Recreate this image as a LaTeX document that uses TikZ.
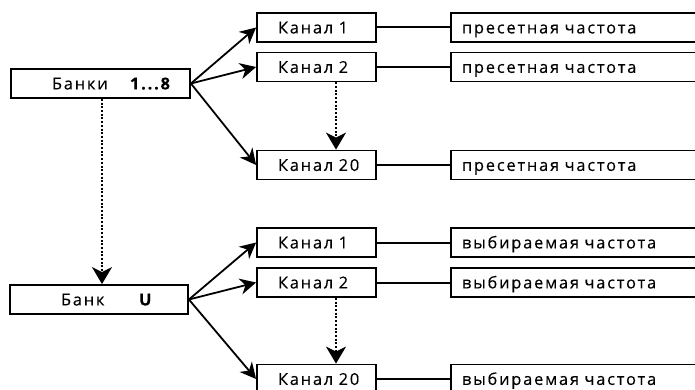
\documentclass[tikz,border=0pt]{standalone}
\usepackage{fontspec}
\setmainfont{Open Sans}[LetterSpace=11, FakeBold=0.3]
\usetikzlibrary{arrows.meta}
\begin{document}
\begin{tikzpicture}[x=1pt,y=1pt,
  box/.style={draw, line width=1.8pt, minimum height=29pt, inner ysep=0pt,
    inner xsep=0pt, text height=11.8pt, text depth=0pt, align=left,
    font=\fontsize{16.4}{19}\selectfont},
  chan/.style={box, text width=119pt, execute at begin node={\hspace*{21pt}}},
  freq/.style={box, text width=249pt, execute at begin node={\hspace*{11pt}}},
  bankbox/.style={box},
  link/.style={line width=2pt},
  arr/.style={line width=1.8pt, -{Stealth[length=16pt,width=16pt,inset=5pt]}},
  dotarr/.style={line width=1.8pt, dash pattern=on 2pt off 1.7pt,
    -{Stealth[length=17pt,width=20pt,inset=5pt]}}]
\clip (0,0) rectangle (695,389);
% top group
\node[bankbox, text width=179pt] (banki) at (100.5,305.5)
  {\hspace*{41pt}\makebox[78pt][l]{Банки}\textbf{1...8}};
\node[chan] (tk1) at (316.5,361.5) {Канал 1};
\node[chan] (tk2) at (316.5,322) {Канал 2};
\node[chan] (tk20) at (316.5,224) {Канал 20};
\node[freq] (tf1) at (575.5,361.5) {пресетная частота};
\node[freq] (tf2) at (575.5,322) {пресетная частота};
\node[freq] (tf20) at (575.5,224) {пресетная частота};
% bottom group
\node[bankbox, text width=178pt] (banku) at (99,89.5)
  {\hspace*{51pt}\makebox[78pt][l]{Банк}\textbf{U}};
\node[chan] (bk1) at (316.5,146.5) {Канал 1};
\node[chan] (bk2) at (316.5,106.5) {Канал 2};
\node[chan] (bk20) at (316.5,10) {Канал 20};
\node[freq] (bf1) at (575.5,146.5) {выбираемая частота};
\node[freq] (bf2) at (575.5,106.5) {выбираемая частота};
\node[freq] (bf20) at (575.5,10) {выбираемая частота};
% arrows
\foreach \t in {tk1,tk2,tk20} \draw[arr] (banki.east) -- (\t.west);
\foreach \t in {bk1,bk2,bk20} \draw[arr] (banku.east) -- (\t.west);
\draw[link] (tk1) -- (tf1);
\draw[link] (tk2) -- (tf2);
\draw[link] (tk20) -- (tf20);
\draw[link] (bk1) -- (bf1);
\draw[link] (bk2) -- (bf2);
\draw[link] (bk20) -- (bf20);
\draw[dotarr] (banki.south -| 102,0) -- (banku.north -| 102,0);
\draw[dotarr] (tk2.south -| 336,0) -- (tk20.north -| 336,0);
\draw[dotarr] (bk2.south -| 336,0) -- (bk20.north -| 336,0);
\end{tikzpicture}
\end{document}
